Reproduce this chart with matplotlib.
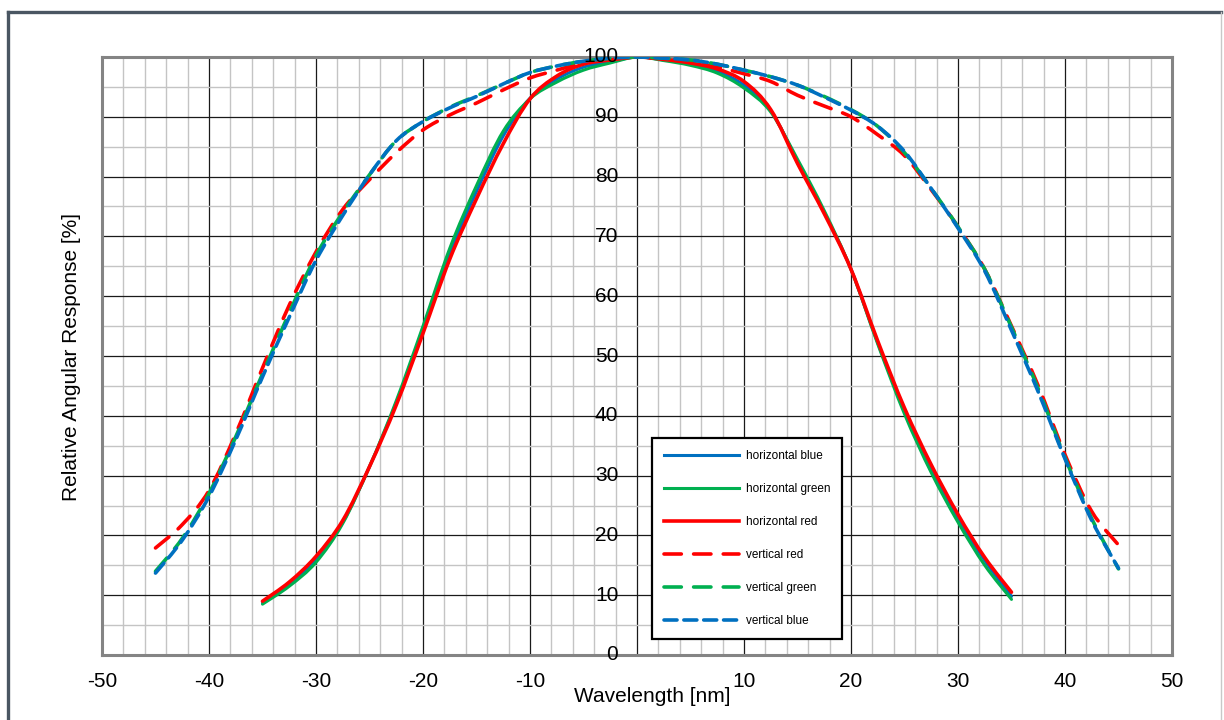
import matplotlib
matplotlib.use("Agg")
import matplotlib.pyplot as plt
import matplotlib.ticker as ticker
from matplotlib import patches
from matplotlib.path import Path
from matplotlib.lines import Line2D

plt.rcParams['font.family'] = ['Liberation Sans', 'DejaVu Sans']

# angles for horizontal scans (-35..35) and vertical scans (-45..45), step 2.5
ang_h = [-35, -32.5, -30, -27.5, -25, -22.5, -20, -17.5, -15, -12.5, -10, -7.5, -5, -2.5,
         0, 2.5, 5, 7.5, 10, 12.5, 15, 17.5, 20, 22.5, 25, 27.5, 30, 32.5, 35]
ang_v = [-45, -42.5, -40, -37.5, -35, -32.5, -30, -27.5, -25, -22.5, -20, -17.5, -15, -12.5,
         -10, -7.5, -5, -2.5, 0, 2.5, 5, 7.5, 10, 12.5, 15, 17.5, 20, 22.5, 25, 27.5,
         30, 32.5, 35, 37.5, 40, 42.5, 45]

h_blue = [8.7, 11.8, 16.0, 22.2, 31.5, 42.2, 54.5, 67.2, 77.5, 86.8, 93.1, 96.3, 98.3, 99.2,
          100, 99.5, 98.8, 97.6, 95.3, 91.0, 82.6, 74.0, 64.5, 52.2, 40.8, 31.1, 22.8, 15.8, 9.8]
h_green = [8.5, 11.5, 15.5, 22.0, 31.5, 42.5, 55.0, 68.0, 78.5, 87.6, 93.0, 95.8, 97.8, 99.0,
           100, 99.4, 98.6, 97.3, 94.8, 90.8, 82.9, 74.3, 64.5, 52.0, 40.3, 30.5, 22.2, 15.0, 9.3]
h_red = [9.0, 12.2, 16.5, 22.5, 31.5, 41.8, 53.8, 66.2, 76.3, 85.5, 93.0, 96.8, 98.8, 99.5,
         100, 99.6, 99.0, 98.0, 95.9, 91.2, 82.2, 73.8, 64.5, 52.5, 41.3, 31.8, 23.5, 16.3, 10.5]

v_red = [17.9, 21.8, 27.5, 37.0, 48.0, 58.5, 67.4, 74.5, 79.5, 84.0, 87.8, 90.3, 92.3, 94.5,
         96.5, 97.8, 99.0, 99.6, 100, 99.7, 99.1, 98.3, 97.2, 95.9, 93.6, 91.8, 90.0, 87.0,
         83.5, 77.8, 71.6, 64.5, 55.0, 45.0, 33.5, 24.0, 18.4]
v_green = [14.0, 19.5, 27.0, 36.5, 47.0, 57.2, 66.8, 74.0, 80.3, 86.0, 89.2, 91.6, 93.5, 95.5,
           97.4, 98.5, 99.3, 99.8, 100, 99.8, 99.5, 98.8, 97.8, 96.7, 95.3, 93.4, 91.2, 88.4,
           84.0, 78.0, 71.6, 64.5, 54.8, 44.5, 33.0, 22.8, 14.4]
v_blue = [13.7, 19.2, 26.5, 36.0, 46.5, 56.5, 66.0, 73.5, 80.3, 86.0, 89.2, 91.5, 93.4, 95.5,
          97.4, 98.5, 99.3, 99.8, 100, 99.8, 99.5, 98.8, 97.8, 96.7, 95.3, 93.3, 91.1, 88.4,
          84.2, 78.0, 71.4, 64.2, 54.3, 44.0, 32.8, 22.5, 14.5]

x_ticks = [-50, -40, -30, -20, -10, 0, 10, 20, 30, 40, 50]
x_ticklabels = ['-50', '-40', '-30', '-20', '-10', '', '10', '20', '30', '40', '50']
y_ticks = [0, 10, 20, 30, 40, 50, 60, 70, 80, 90, 100]

BLUE = '#0070C0'
GREEN = '#00B050'
RED = '#FF0000'
DASH_LONG = (0, (4.8, 3.4))
DASH_SHORT = (0, (3.6, 1.9))


def smooth_path(xs, ys):
    # Catmull-Rom through the points as bezier segments (like a smoothed spreadsheet line)
    pts = list(zip(xs, ys))
    verts = [pts[0]]
    codes = [Path.MOVETO]
    n = len(pts)
    for i in range(n - 1):
        p0 = pts[i - 1] if i > 0 else pts[i]
        p1 = pts[i]
        p2 = pts[i + 1]
        p3 = pts[i + 2] if i + 2 < n else pts[i + 1]
        c1 = (p1[0] + (p2[0] - p0[0]) / 6, p1[1] + (p2[1] - p0[1]) / 6)
        c2 = (p2[0] - (p3[0] - p1[0]) / 6, p2[1] - (p3[1] - p1[1]) / 6)
        verts += [c1, c2, p2]
        codes += [Path.CURVE4] * 3
    return Path(verts, codes)


series = [
    (ang_h, h_blue, BLUE, 2.2, '-', 'horizontal blue'),
    (ang_h, h_green, GREEN, 2.2, '-', 'horizontal green'),
    (ang_h, h_red, RED, 2.6, '-', 'horizontal red'),
    (ang_v, v_red, RED, 2.6, DASH_LONG, 'vertical red'),
    (ang_v, v_green, GREEN, 2.6, DASH_LONG, 'vertical green'),
    (ang_v, v_blue, BLUE, 2.6, DASH_SHORT, 'vertical blue'),
]

fig = plt.figure(figsize=(12.24, 7.2), dpi=100)
ax = fig.add_axes([102/1224, 65/720, 1070/1224, 598/720])

handles = []
for xs, ys, col, lw, ls, lab in series:
    pp = patches.PathPatch(smooth_path(xs, ys), fill=False, edgecolor=col, lw=lw,
                           linestyle=ls, capstyle='round', zorder=3)
    ax.add_patch(pp)
    handles.append(Line2D([], [], color=col, lw=lw, ls=ls, dash_capstyle='round', label=lab))

ax.set_xlim(-50, 50)
ax.set_ylim(0, 100)
ax.set_xticks(x_ticks)
ax.set_xticklabels(x_ticklabels, fontsize=15)
ax.xaxis.set_minor_locator(ticker.MultipleLocator(2))
ax.set_yticks(y_ticks)
ax.yaxis.set_minor_locator(ticker.MultipleLocator(5))
ax.set_yticklabels([])
ax.tick_params(which='both', length=0)
ax.tick_params(axis='x', pad=12)
ax.grid(which='minor', color='#c4c4c4', lw=1.0)
ax.grid(which='major', color='#1a1a1a', lw=0.9)
ax.set_axisbelow(True)
for s in ax.spines.values():
    s.set_color('#848484')
    s.set_linewidth(2.2)

# y tick labels sit next to the centre line
for t in y_ticks:
    ax.text(-1.75, t, str(t), ha='right', va='center', fontsize=15, zorder=6, clip_on=False)

fig.text(652/1224, 1-697/720, 'Wavelength [nm]', ha='center', va='center', fontsize=15)
fig.text(72/1224, 1-357/720, 'Relative Angular Response [%]', ha='center', va='center',
         rotation=90, fontsize=15)

leg = ax.legend(handles=handles, loc='upper left', bbox_to_anchor=(652/1224, 1-438/720),
                bbox_transform=fig.transFigure, borderaxespad=0, fontsize=8.5,
                handlelength=6.4, handletextpad=0.55, labelspacing=1.78, borderpad=1.0,
                fancybox=False, framealpha=1)
leg.get_frame().set_edgecolor('black')
leg.get_frame().set_linewidth(1.6)
leg.set_zorder(7)

# outer frame of the figure
fig.add_artist(Line2D([7.5/1224, 7.5/1224], [-0.01, 1-11.5/720], color='#4a5662', lw=2.4))
fig.add_artist(Line2D([7.5/1224, 1221/1224], [1-11.5/720, 1-11.5/720], color='#4a5662', lw=2.4))
fig.add_artist(Line2D([1221/1224, 1221/1224], [-0.01, 1-11.5/720], color='#c8c8c8', lw=1))

fig.savefig('out.png', dpi=100)
